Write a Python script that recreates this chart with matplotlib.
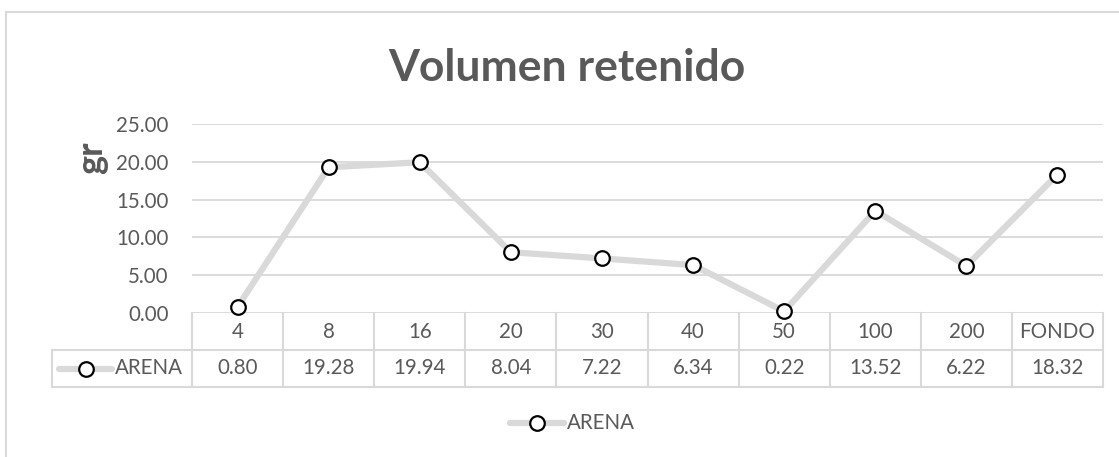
import matplotlib
matplotlib.use("Agg")
import matplotlib.pyplot as plt
from matplotlib.lines import Line2D
from matplotlib.transforms import blended_transform_factory

plt.rcParams['font.family'] = ['Lato', 'DejaVu Sans']

categories = ['4', '8', '16', '20', '30', '40', '50', '100', '200', 'FONDO']
arena = [0.80, 19.28, 19.94, 8.04, 7.22, 6.34, 0.22, 13.52, 6.22, 18.32]
series_name = 'ARENA'
y_ticks = [0, 5, 10, 15, 20, 25]

W, H = 1119, 457
TEXT = '#595959'
GRID = '#D9D9D9'
LINE = '#D9D9D9'
FS = 14.8
MS = 10.5

fig = plt.figure(figsize=(W / 100, H / 100), dpi=100)
fig.patch.set_facecolor('white')

def px(x, y):
    return x / W, 1 - y / H

# plot area in pixels
L, R, T, B = 192, 1103, 124, 313
ax = fig.add_axes([L / W, 1 - B / H, (R - L) / W, (B - T) / H])
ax.set_xlim(-0.5, len(categories) - 0.5)
ax.set_ylim(0, 25)
for s in ax.spines.values():
    s.set_visible(False)
ax.set_xticks([])
ax.set_yticks(y_ticks)
ax.set_yticklabels([f'{v:.2f}' for v in y_ticks])
ax.tick_params(axis='y', length=0, pad=17, labelsize=FS, labelcolor=TEXT)
for v in y_ticks:
    ax.axhline(v, color=GRID, lw=1.3, zorder=0)

x = list(range(len(categories)))
ax.plot(x, arena, color=LINE, lw=4.5, solid_capstyle='round', zorder=2,
        marker='o', markersize=MS, markerfacecolor='white',
        markeredgecolor='black', markeredgewidth=1.6, clip_on=False)

# data table below the axis
ph = B - T
row = 37
def ay(ypix):
    return (B - ypix) / ph

tr = blended_transform_factory(ax.transData, ax.transAxes)
r1, r2 = B + row, B + 2 * row
for k in range(len(categories) + 1):
    ax.add_line(Line2D([k - 0.5, k - 0.5], [0, ay(r2)], transform=tr,
                       color=GRID, lw=1.5, clip_on=False))
for yy in (r1, r2):
    fig.add_artist(Line2D([52 / W, R / W], [1 - yy / H, 1 - yy / H],
                          transform=fig.transFigure, color=GRID, lw=1.5))
fig.add_artist(Line2D([52 / W, 52 / W], [1 - r1 / H, 1 - r2 / H],
                      transform=fig.transFigure, color=GRID, lw=1.5))

for i, (c, v) in enumerate(zip(categories, arena)):
    ax.text(i, ay(B + row / 2), c, transform=tr, ha='center', va='center',
            fontsize=FS, color=TEXT)
    ax.text(i, ay(B + 1.5 * row), f'{v:.2f}', transform=tr, ha='center',
            va='center', fontsize=FS, color=TEXT)

def legend_key(x0, x1, y, label):
    fig.add_artist(Line2D([x0 / W, x1 / W], [1 - y / H, 1 - y / H],
                          transform=fig.transFigure, color=LINE, lw=4.5,
                          solid_capstyle='round'))
    fig.add_artist(Line2D([(x0 + x1) / 2 / W], [1 - y / H],
                          transform=fig.transFigure, lw=0, marker='o',
                          markersize=MS, markerfacecolor='white',
                          markeredgecolor='black', markeredgewidth=1.6))
    fig.text((x1 + 3) / W, 1 - y / H, label, ha='left', va='center',
             fontsize=FS, color=TEXT)

legend_key(59, 112, B + 1.5 * row, series_name)
legend_key(510, 564, 423, series_name)

# axis title and chart title
fig.text(*px(92, 158), 'gr', rotation=90, ha='center', va='center',
         fontsize=26, fontweight='bold', color=TEXT)
fig.text(*px(567, 68), 'Volumen retenido', ha='center', va='center',
         fontsize=32, fontweight='bold', color=TEXT)

# chart frame
fig.add_artist(Line2D([6 / W, 6 / W], [1 - 12 / H, 0], transform=fig.transFigure,
                      color=GRID, lw=1.5))
fig.add_artist(Line2D([6 / W, 1], [1 - 12 / H, 1 - 12 / H],
                      transform=fig.transFigure, color=GRID, lw=1.5))

fig.savefig('out.png', dpi=100, facecolor='white')
